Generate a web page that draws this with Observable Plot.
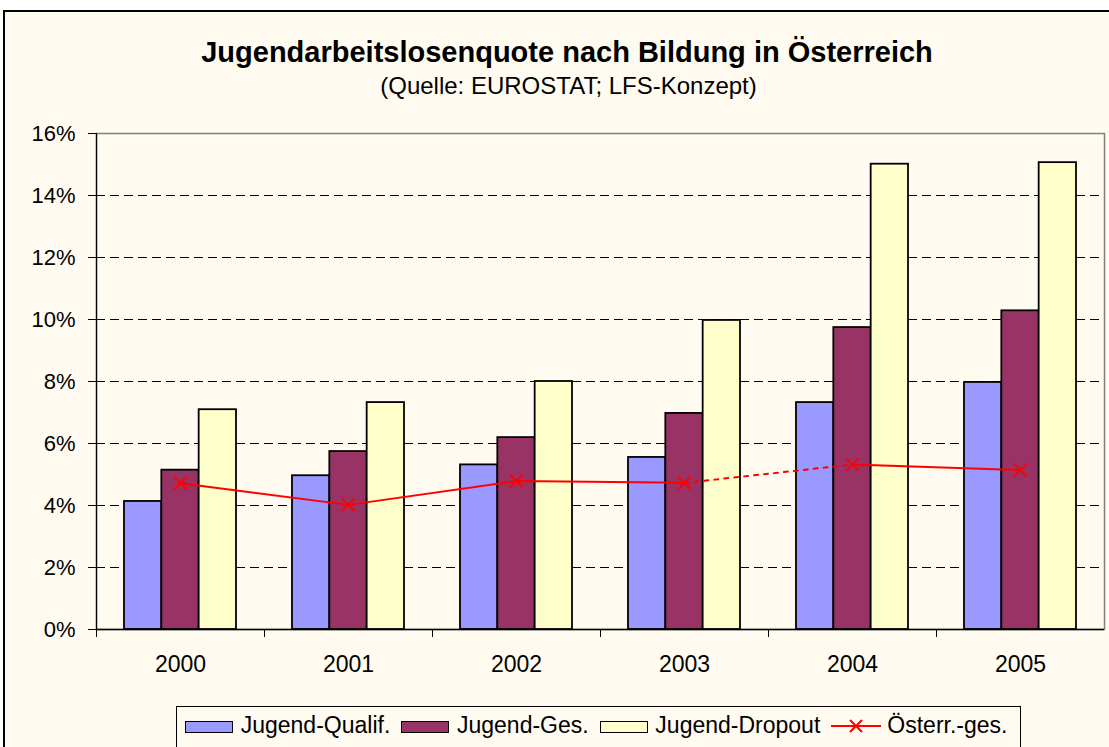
<!DOCTYPE html>
<html><head><meta charset="utf-8">
<script src="https://cdn.jsdelivr.net/npm/d3@7"></script>
<script src="https://cdn.jsdelivr.net/npm/@observablehq/plot@0.6"></script>
<style>
html,body{margin:0;padding:0;background:#fff;}
body{width:1109px;height:747px;overflow:hidden;position:relative;font-family:"Liberation Sans",Arial,sans-serif;color:#000;}
#frame{position:absolute;left:3px;top:10px;width:1140px;height:780px;border:2px solid #000;background:#fffbf0;}
#title{position:absolute;left:0;width:1134px;top:37.5px;text-align:center;font-weight:bold;font-size:29px;line-height:29px;white-space:nowrap;}
#subtitle{position:absolute;left:0;width:1137px;top:73.7px;text-align:center;font-size:24px;line-height:24px;white-space:nowrap;}
#chart{position:absolute;left:0;top:100px;}
#legend{position:absolute;left:176px;top:706px;width:845px;height:80px;border:1px solid #000;background:#fffbf0;box-sizing:border-box;}
#legend .row{position:absolute;left:8px;top:6.3px;height:24px;line-height:24px;font-size:23px;white-space:nowrap;}
#legend .item{display:inline-block;margin-right:11px;}
#legend .sw{display:inline-block;width:48px;height:12.5px;border:1.5px solid #000;box-sizing:border-box;vertical-align:baseline;margin-right:7.7px;}
#legend svg{display:inline-block;vertical-align:baseline;margin-right:6px;}
</style>
</head><body>
<div id="frame"></div>
<div id="title">Jugendarbeitslosenquote nach Bildung in Österreich</div>
<div id="subtitle">(Quelle: EUROSTAT; LFS-Konzept)</div>
<div id="chart"></div>
<div id="legend"><div class="row" id="legrow"></div></div>
<script>
// ---- data ----
const years = ["2000", "2001", "2002", "2003", "2004", "2005"];
const seriesNames = ["Jugend-Qualif.", "Jugend-Ges.", "Jugend-Dropout", "Österr.-ges."];
const qualif = [4.13, 4.96, 5.31, 5.55, 7.32, 7.97];
const ges = [5.14, 5.74, 6.19, 6.97, 9.74, 10.28];
const dropout = [7.09, 7.32, 8.0, 9.97, 15.01, 15.06];
const oesterr = [4.72, 4.02, 4.79, 4.73, 5.32, 5.14];
const seriesBreakAfter = "2003"; // dotted connection after this year
const yTicks = [0, 2, 4, 6, 8, 10, 12, 14, 16];
const barColors = ["#9999ff", "#993366", "#ffffcc"];
const lineColor = "#ff0000";

// ---- layout ----
const W = 1109, ML = 96, MR = 5, MT = 33, MB = 50, PH = 496;
const bw = (W - ML - MR) / years.length;
const barW = bw / 4.5;
const inset = (bw - barW) / 2;

const rows = years.map((year, i) => ({year, qualif: qualif[i], ges: ges[i], dropout: dropout[i], oesterr: oesterr[i]}));
const bi = years.indexOf(seriesBreakAfter);
const solidA = rows.slice(0, bi + 1);
const dotted = rows.slice(bi, bi + 2);
const solidB = rows.slice(bi + 1);

const barOpts = (key, k) => ({x: "year", y: key, dx: (k - 1) * barW, insetLeft: inset, insetRight: inset,
  fill: barColors[k], stroke: "#000", strokeWidth: 1.8});

const chart = Plot.plot({
  width: W, height: MT + PH + MB,
  marginLeft: ML, marginRight: MR, marginTop: MT, marginBottom: MB,
  style: {background: "transparent", fontFamily: "'Liberation Sans', Arial, sans-serif", fontSize: "22px", color: "#000", overflow: "visible"},
  x: {type: "band", domain: years, padding: 0, axis: null, label: null},
  y: {domain: [0, 16], axis: null, label: null},
  marks: [
    Plot.ruleY(yTicks.filter(t => t > yTicks[0] && t < yTicks[yTicks.length - 1]), {stroke: "#000", strokeWidth: 1, strokeDasharray: "9,5"}),
    Plot.frame({stroke: "#808080", strokeWidth: 1.5}),
    Plot.barY(rows, barOpts("qualif", 0)),
    Plot.barY(rows, barOpts("ges", 1)),
    Plot.barY(rows, barOpts("dropout", 2)),
    Plot.ruleY([0], {stroke: "#000", strokeWidth: 1.5}),
    Plot.ruleX([years[0]], {dx: -bw / 2, y1: 0, y2: 16, stroke: "#000", strokeWidth: 1.2}),
    Plot.axisY({ticks: yTicks, tickSize: 8, tickPadding: 13, tickFormat: d => d + "%", fontSize: 22, label: null, stroke: "#000"}),
    Plot.axisX({tickSize: 8, tickFormat: () => "", dx: -bw / 2, label: null, stroke: "#000"}),
    Plot.axisX({tickSize: 0, tickPadding: 26, fontSize: 23, label: null}),
    Plot.line(solidA, {x: "year", y: "oesterr", stroke: lineColor, strokeWidth: 2}),
    Plot.line(dotted, {x: "year", y: "oesterr", stroke: lineColor, strokeWidth: 2, strokeDasharray: "4,6"}),
    Plot.line(solidB, {x: "year", y: "oesterr", stroke: lineColor, strokeWidth: 2}),
    Plot.dot(rows, {x: "year", y: "oesterr", symbol: "times", r: 5.8, stroke: lineColor, strokeWidth: 2})
  ]
});
document.getElementById("chart").appendChild(chart);

// ---- legend ----
const leg = document.getElementById("legrow");
seriesNames.forEach((name, i) => {
  const item = document.createElement("span");
  item.className = "item";
  if (i < 3) {
    const sw = document.createElement("span");
    sw.className = "sw";
    sw.style.background = barColors[i];
    item.appendChild(sw);
  } else {
    const ns = "http://www.w3.org/2000/svg";
    const svg = document.createElementNS(ns, "svg");
    svg.setAttribute("width", 50); svg.setAttribute("height", 14);
    const ln = document.createElementNS(ns, "line");
    ln.setAttribute("x1", 0); ln.setAttribute("x2", 50); ln.setAttribute("y1", 7); ln.setAttribute("y2", 7);
    ln.setAttribute("stroke", lineColor); ln.setAttribute("stroke-width", 2);
    svg.appendChild(ln);
    const p = document.createElementNS(ns, "path");
    p.setAttribute("d", "M19,1L31,13M31,1L19,13");
    p.setAttribute("stroke", lineColor); p.setAttribute("stroke-width", 2);
    svg.appendChild(p);
    item.appendChild(svg);
  }
  item.appendChild(document.createTextNode(name));
  leg.appendChild(item);
});
</script>
</body></html>
